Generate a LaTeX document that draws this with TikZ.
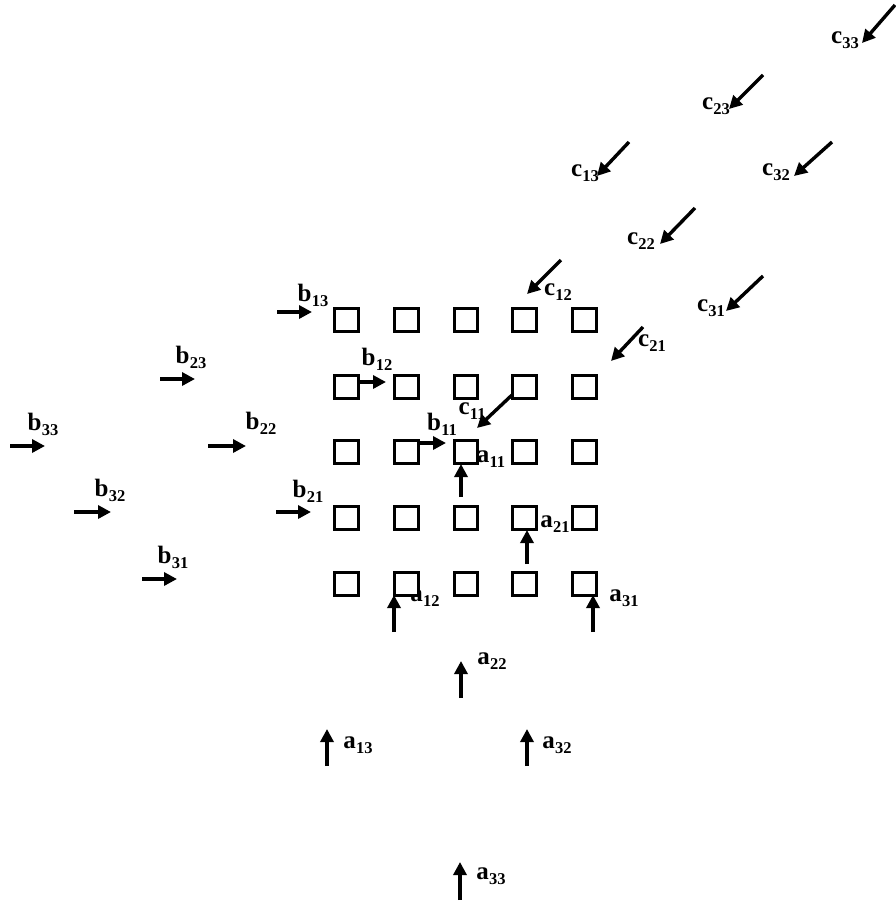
\documentclass[tikz,border=0pt]{standalone}
\usepackage{fontspec}
\setmainfont{Liberation Serif}
\usetikzlibrary{arrows.meta}
\newcommand{\sbx}[2]{#1\kern0.3pt\raisebox{-5pt}{\fontsize{16.5}{16.5}\selectfont #2}}
\begin{document}
\begin{tikzpicture}[x=1pt,y=-1pt,
  cell/.style={draw, fill=white, line width=3.2pt, minimum size=23.5pt, inner sep=0pt},
  flow/.style={line width=3.4pt, -{Triangle[length=13pt,width=13pt]}},
  lbl/.style={inner sep=0pt, font=\fontsize{25}{25}\selectfont\bfseries}]
\useasboundingbox (0,0) rectangle (896,903);

% labels
\node[lbl] (Lb13) at (313,295) {\sbx{b}{13}};
\node[lbl] (Lb12) at (377,359) {\sbx{b}{12}};
\node[lbl] (Lb11) at (442,424) {\sbx{b}{11}};
\node[lbl] (Lb21) at (308,491) {\sbx{b}{21}};
\node[lbl] (Lb23) at (191,357) {\sbx{b}{23}};
\node[lbl] (Lb22) at (261,423) {\sbx{b}{22}};
\node[lbl] (Lb33) at (43,424) {\sbx{b}{33}};
\node[lbl] (Lb32) at (110,490) {\sbx{b}{32}};
\node[lbl] (Lb31) at (173,557) {\sbx{b}{31}};

\node[lbl] (Lc33) at (845,40) {\sbx{c}{33}};
\node[lbl] (Lc23) at (716,106) {\sbx{c}{23}};
\node[lbl] (Lc13) at (585,173) {\sbx{c}{13}};
\node[lbl] (Lc32) at (776,172) {\sbx{c}{32}};
\node[lbl] (Lc22) at (641,241) {\sbx{c}{22}};
\node[lbl] (Lc12) at (558,292) {\sbx{c}{12}};
\node[lbl] (Lc31) at (711,308) {\sbx{c}{31}};
\node[lbl] (Lc21) at (652,343) {\sbx{c}{21}};
\node[lbl] (Lc11) at (472,411) {\sbx{c}{11}};

\node[lbl] (La11) at (491,459) {\sbx{a}{11}};
\node[lbl] (La21) at (555,524) {\sbx{a}{21}};
\node[lbl] (La12) at (425,598) {\sbx{a}{12}};
\node[lbl] (La31) at (624,598) {\sbx{a}{31}};
\node[lbl] (La22) at (492,661) {\sbx{a}{22}};
\node[lbl] (La13) at (358,745) {\sbx{a}{13}};
\node[lbl] (La32) at (557,745) {\sbx{a}{32}};
\node[lbl] (La33) at (491,876) {\sbx{a}{33}};

% grid of cells
\foreach \r/\y in {1/320,2/387,3/452,4/518,5/584}{
  \foreach \c/\x in {1/346.5,2/406.5,3/466,4/524.5,5/584.5}{
    \node[cell] (p\r\c) at (\x,\y) {};
  }
}

% b arrows (rightward)
\foreach \n/\xa/\xb/\y in {b13/277/312/312, b12/360/386/382, b11/420/446/443,
  b21/276/311/512, b23/160/195/379, b22/208/246/446, b33/10/45/446,
  b32/74/111/512, b31/142/177/579}{
  \coordinate (\n s) at (\xa,\y);
  \coordinate (\n e) at (\xb,\y);
  \draw[flow] (\n s) -- (\n e);
}

% c arrows (diagonal, down-left)
\foreach \n/\xa/\ya/\xb/\yb in {c33/895/5/862/43, c23/763/75/729/109,
  c13/629/142/597/176, c32/832/142/794/176, c22/695/208/660/244,
  c12/561/260/527/294, c31/763/276/726/311, c21/643/327/611/361,
  c11/512/395/477/428}{
  \coordinate (\n s) at (\xa,\ya);
  \coordinate (\n e) at (\xb,\yb);
  \draw[flow] (\n s) -- (\n e);
}

% a arrows (upward)
\foreach \n/\x/\ya/\yb in {a11/461/497/464, a21/527/564/530, a12/394/632/595,
  a31/593/632/595, a22/461/698/661, a13/327/766/729, a32/527/766/729,
  a33/460/900/862}{
  \coordinate (\n s) at (\x,\ya);
  \coordinate (\n e) at (\x,\yb);
  \draw[flow] (\n s) -- (\n e);
}
\end{tikzpicture}
\end{document}
